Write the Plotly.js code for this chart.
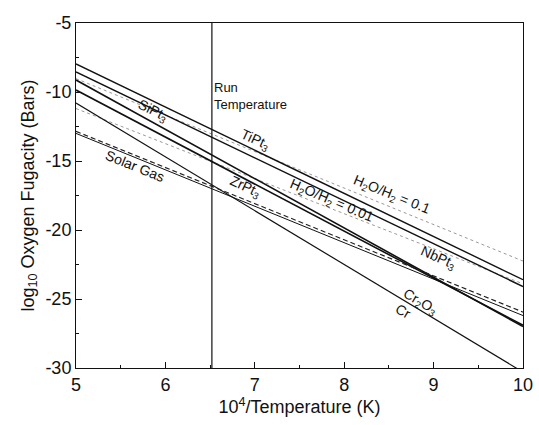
<!DOCTYPE html>
<html>
<head>
<meta charset="utf-8">
<script src="https://cdn.plot.ly/plotly-3.0.1.min.js"></script>
<style>
html,body{margin:0;padding:0;background:#fff;}
#chart{width:539px;height:425px;}
</style>
</head>
<body>
<div id="chart"></div>
<script>
// x = 10^4 / T (K)
const xEnds = [5, 10];
// log10 fO2 (bars) at x = 5 and x = 10
const TiPt3 = [-7.97, -23.6];
const NbPt3 = [-8.55, -24.1];
const SiPt3 = [-9.13, -27.0];
const ZrPt3 = [-9.86, -26.9];
const CrCr2O3 = [-10.8, -30.3];
const solarGas = [-13.0, -26.2];
const solarGasDashed = [-12.85, -25.95];
const h2oH2_01 = [-9.03, -22.25];
const h2oH2_001 = [-11.2, -23.9];
const runTemp = 6.52;

const xTicks = [5, 6, 7, 8, 9, 10];
const yTicks = [-5, -10, -15, -20, -25, -30];

const font = "'Liberation Sans', Arial, Helvetica, sans-serif";

function solid(y, w) {
  return {x: xEnds, y: y, mode: 'lines', line: {color: '#111', width: w || 1.4}, hoverinfo: 'skip'};
}
function dotted(y) {
  return {x: xEnds, y: y, mode: 'lines', line: {color: '#999', width: 1, dash: 'dot'}, hoverinfo: 'skip'};
}

const traces = [
  dotted(h2oH2_01),
  dotted(h2oH2_001),
  solid(TiPt3),
  solid(NbPt3),
  solid(SiPt3, 1.6),
  solid(ZrPt3, 1.6),
  solid(CrCr2O3, 1.2),
  solid(solarGas, 1.0),
  {x: xEnds, y: solarGasDashed, mode: 'lines', line: {color: '#222', width: 1.2, dash: '5px,3px'}, hoverinfo: 'skip'}
];

function lbl(text, x, y, ang, size) {
  return {x: x, y: y, xref: 'x', yref: 'y', text: text, showarrow: false,
          textangle: ang, font: {family: font, size: size || 14, color: '#111'}};
}

const layout = {
  width: 539, height: 425,
  margin: {l: 76, r: 16, t: 23, b: 57},
  paper_bgcolor: '#fff', plot_bgcolor: '#fff',
  showlegend: false,
  font: {family: font, color: '#111'},
  xaxis: {
    range: [5, 10], tickvals: xTicks, ticktext: xTicks.map(String),
    ticks: 'inside', ticklen: 6, tickcolor: '#111', tickwidth: 1,
    minor: {dtick: 0.5, ticks: 'inside', ticklen: 3, tickcolor: '#111', showgrid: false},
    showline: true, linecolor: '#111', linewidth: 1, mirror: true,
    showgrid: false, zeroline: false,
    tickfont: {family: font, size: 18, color: '#111'},
    title: {text: '10<sup>4</sup>/Temperature (K)', font: {family: font, size: 18, color: '#111'}, standoff: 6}
  },
  yaxis: {
    range: [-30, -5], tickvals: yTicks, ticktext: yTicks.map(String),
    ticks: 'inside', ticklen: 6, tickcolor: '#111', tickwidth: 1,
    minor: {dtick: 2.5, ticks: 'inside', ticklen: 3, tickcolor: '#111', showgrid: false},
    showline: true, linecolor: '#111', linewidth: 1, mirror: true,
    showgrid: false, zeroline: false,
    tickfont: {family: font, size: 18, color: '#111'},
    title: {text: 'log<sub>10</sub> Oxygen Fugacity (Bars)', font: {family: font, size: 18, color: '#111'}, standoff: 6}
  },
  shapes: [
    {type: 'line', xref: 'x', yref: 'paper', x0: runTemp, x1: runTemp, y0: 0, y1: 1,
     line: {color: '#111', width: 1.2}}
  ],
  annotations: [
    {x: runTemp, y: -10.3, xref: 'x', yref: 'y', xanchor: 'left', yanchor: 'middle', align: 'left',
     text: 'Run<br>Temperature', showarrow: false, font: {family: font, size: 13, color: '#111'}},
    lbl('SiPt<sub>3</sub>', 5.86, -11.4, 27),
    lbl('TiPt<sub>3</sub>', 7.0, -13.5, 25),
    lbl('Solar Gas', 5.66, -15.35, 22),
    lbl('ZrPt<sub>3</sub>', 6.89, -16.9, 25),
    lbl('H<sub>2</sub>O/H<sub>2</sub> = 0.01', 7.86, -17.9, 23),
    lbl('H<sub>2</sub>O/H<sub>2</sub> = 0.1', 8.53, -17.45, 22),
    lbl('NbPt<sub>3</sub>', 9.05, -22.0, 24),
    lbl('Cr<sub>2</sub>O<sub>3</sub>', 8.85, -25.2, 30),
    lbl('Cr', 8.66, -25.85, 30)
  ]
};

Plotly.newPlot('chart', traces, layout, {staticPlot: true, displayModeBar: false});
</script>
</body>
</html>
